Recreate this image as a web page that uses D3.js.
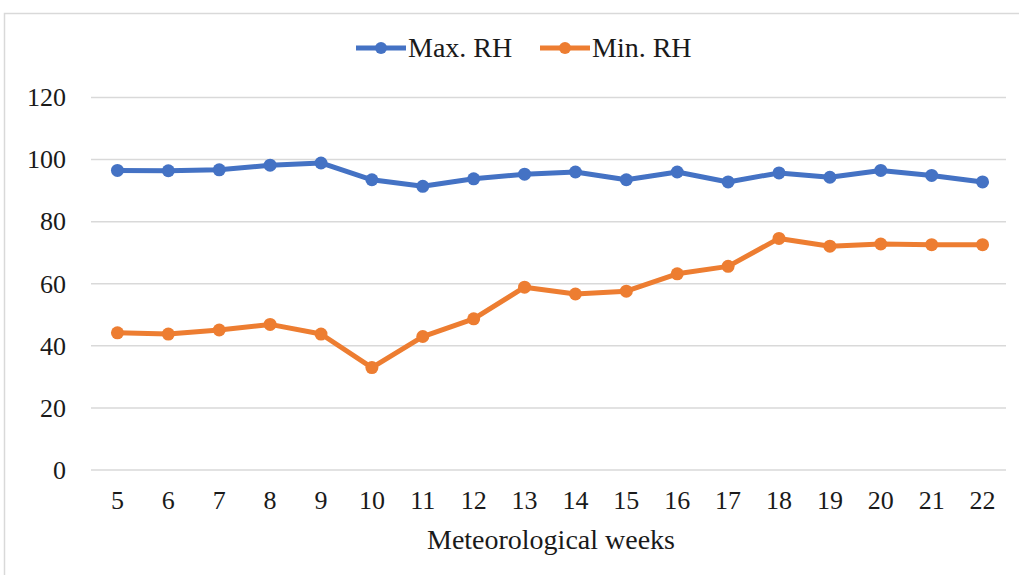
<!DOCTYPE html>
<html>
<head>
<meta charset="utf-8">
<script src="https://cdn.jsdelivr.net/npm/d3@7"></script>
<style>
  body { margin: 0; background: #fff; }
</style>
</head>
<body>
<svg id="chart" width="1019" height="575"></svg>
<script>
const weeks = [5, 6, 7, 8, 9, 10, 11, 12, 13, 14, 15, 16, 17, 18, 19, 20, 21, 22];
const maxRH = [96.5, 96.4, 96.7, 98.2, 98.9, 93.5, 91.4, 93.8, 95.3, 96.0, 93.5, 96.0, 92.8, 95.7, 94.3, 96.5, 94.9, 92.8];
const minRH = [44.2, 43.8, 45.1, 46.9, 43.8, 33.0, 43.0, 48.7, 58.9, 56.7, 57.6, 63.2, 65.6, 74.6, 72.1, 72.8, 72.6, 72.6];
const yTicks = [0, 20, 40, 60, 80, 100, 120];

const series = [
  {name: 'Max. RH', values: maxRH, color: '#4472C4'},
  {name: 'Min. RH', values: minRH, color: '#ED7D31'}
];

const FONT = "'Liberation Serif', 'Times New Roman', serif";

var svg = d3.select('#chart');

// chart frame
svg.append('rect')
  .attr('x', 4.5).attr('y', 13.5)
  .attr('width', 1030).attr('height', 600)
  .attr('fill', 'none')
  .attr('stroke', '#d9d9d9')
  .attr('stroke-width', 1.5);

var x = d3.scaleBand().domain(weeks).range([92, 1008]);
var y = d3.scaleLinear().domain([0, 120]).range([470, 97.5]);

// gridlines
svg.append('g')
  .selectAll('line')
  .data(yTicks)
  .enter()
  .append('line')
  .attr('x1', 91).attr('x2', 1006)
  .attr('y1', d => y(d)).attr('y2', d => y(d))
  .attr('stroke', '#d9d9d9')
  .attr('stroke-width', 1.5);

var yAxis = svg.append('g')
  .attr('transform', 'translate(66,0)')
  .call(d3.axisLeft(y).tickValues(yTicks).tickSize(0).tickPadding(0));
yAxis.select('.domain').remove();
yAxis.selectAll('text')
  .style('font-family', FONT)
  .style('font-size', '26px')
  .attr('fill', '#1a1a1a');

var xAxis = svg.append('g')
  .attr('transform', 'translate(0,470)')
  .call(d3.axisBottom(x).tickSize(0).tickPadding(21));
xAxis.select('.domain').remove();
xAxis.selectAll('text')
  .style('font-family', FONT)
  .style('font-size', '26px')
  .attr('fill', '#1a1a1a');

svg.append('text')
  .attr('x', 551).attr('y', 549)
  .attr('text-anchor', 'middle')
  .attr('fill', '#1a1a1a')
  .style('font-family', FONT)
  .style('font-size', '28px')
  .text('Meteorological weeks');

var line = d3.line()
  .x((d, i) => x(weeks[i]) + x.bandwidth() / 2)
  .y(d => y(d));

series.forEach(s => {
  svg.append('path')
    .datum(s.values)
    .attr('d', line)
    .attr('fill', 'none')
    .attr('stroke', s.color)
    .attr('stroke-width', 5)
    .attr('stroke-linejoin', 'round');
  svg.append('g')
    .selectAll('circle')
    .data(s.values)
    .enter()
    .append('circle')
    .attr('cx', (d, i) => x(weeks[i]) + x.bandwidth() / 2)
    .attr('cy', d => y(d))
    .attr('r', 6.5)
    .attr('fill', s.color);
});

// legend
var legendX = [356, 540];
var legend = svg.append('g');
series.forEach((s, i) => {
  var g = legend.append('g').attr('transform', 'translate(' + legendX[i] + ',48)');
  g.append('line').attr('x1', 0).attr('x2', 50).attr('stroke', s.color).attr('stroke-width', 5);
  g.append('circle').attr('cx', 25).attr('r', 6).attr('fill', s.color);
  g.append('text')
    .attr('x', 52).attr('y', 9)
    .attr('fill', '#1a1a1a')
    .style('font-family', FONT)
    .style('font-size', '28px')
    .text(s.name);
});
</script>
</body>
</html>
